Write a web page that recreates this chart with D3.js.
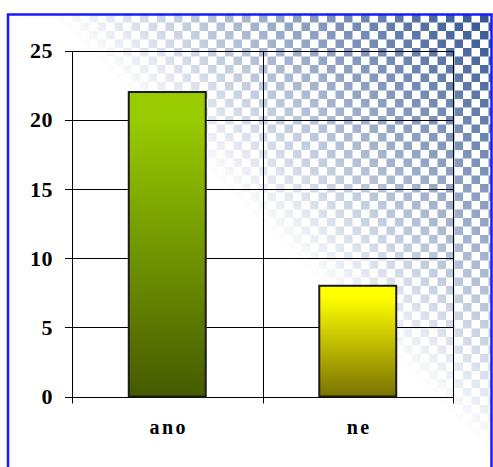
<!DOCTYPE html>
<html><head><meta charset="utf-8">
<script src="https://cdn.jsdelivr.net/npm/d3@7"></script>
<style>html,body{margin:0;padding:0;background:#fff;}svg{display:block;}</style>
</head><body>
<script>
const categories = ["ano", "ne"];
const values = [22, 8];
const yTicks = [0, 5, 10, 15, 20, 25];
const barTop = ["#99cc00", "#ffff00"];
const barBottom = ["#465a00", "#797200"];

const W = 493, H = 467;
const svg = d3.select("body").append("svg").attr("width", W).attr("height", H);
const defs = svg.append("defs");

// checker pattern
const pat = defs.append("pattern").attr("id", "chk").attr("patternUnits", "userSpaceOnUse")
  .attr("width", 17).attr("height", 17).attr("x", 4).attr("y", 14);
pat.append("rect").attr("x", 0).attr("y", 0).attr("width", 8.5).attr("height", 8.5).attr("fill", "#2f5290");
pat.append("rect").attr("x", 8.5).attr("y", 8.5).attr("width", 8.5).attr("height", 8.5).attr("fill", "#2f5290");

const mg = defs.append("linearGradient").attr("id", "fade").attr("gradientUnits", "userSpaceOnUse")
  .attr("x1", 270).attr("y1", 236).attr("x2", 492).attr("y2", 14);
mg.append("stop").attr("offset", 0).attr("stop-color", "#fff").attr("stop-opacity", 0);
mg.append("stop").attr("offset", 0.5).attr("stop-color", "#fff").attr("stop-opacity", 0.5);
mg.append("stop").attr("offset", 1).attr("stop-color", "#fff").attr("stop-opacity", 1);
const mask = defs.append("mask").attr("id", "m").attr("maskUnits", "userSpaceOnUse")
  .attr("x", 0).attr("y", 0).attr("width", W).attr("height", H);
mask.append("rect").attr("width", W).attr("height", H).attr("fill", "url(#fade)");

svg.append("rect").attr("width", W).attr("height", H).attr("fill", "#fff");
svg.append("rect").attr("x", 8).attr("y", 14).attr("width", 484).attr("height", 460)
  .attr("fill", "url(#chk)").attr("mask", "url(#m)");

// bar gradients
categories.forEach((c, i) => {
  const g = defs.append("linearGradient").attr("id", "bg" + i).attr("x1", 0).attr("y1", 0).attr("x2", 0).attr("y2", 1);
  g.append("stop").attr("offset", 0).attr("stop-color", barTop[i]);
  g.append("stop").attr("offset", i === 0 ? 0.08 : 0.1).attr("stop-color", barTop[i]);
  g.append("stop").attr("offset", 1).attr("stop-color", barBottom[i]);
});

const L = 72, R = 453, T = 50.5, B = 396.5;
const x = d3.scaleBand().domain(categories).range([L, R]).paddingInner(0.596).paddingOuter(0.298);
const y = d3.scaleLinear().domain([0, 25]).range([B, T]);
const px = v => Math.round(v) + 0.5;

const grid = svg.append("g").attr("stroke", "#000").attr("stroke-width", 1);
yTicks.forEach(t => {
  grid.append("line").attr("x1", L - 7).attr("x2", R + 0.5).attr("y1", px(y(t))).attr("y2", px(y(t)));
});
const bounds = [L, L + x.step(), R];
bounds.forEach(b => {
  grid.append("line").attr("x1", px(b)).attr("x2", px(b)).attr("y1", px(T)).attr("y2", B + 7);
});

// bars
svg.append("g").selectAll("rect").data(values).join("rect")
  .attr("x", (d, i) => x(categories[i]))
  .attr("y", d => y(d))
  .attr("width", x.bandwidth())
  .attr("height", d => B - y(d))
  .attr("fill", (d, i) => `url(#bg${i})`)
  .attr("stroke", "#1a1a1a").attr("stroke-width", 2);

// y tick labels
svg.append("g").selectAll("text").data(yTicks).join("text")
  .attr("x", 53).attr("y", d => y(d)).attr("dy", "0.35em")
  .attr("text-anchor", "end")
  .attr("font-family", "'Liberation Serif', 'Times New Roman', serif")
  .attr("font-weight", "bold").attr("font-size", 22).attr("letter-spacing", 0.5)
  .text(d => d);

// x labels
svg.append("g").selectAll("text").data(categories).join("text")
  .attr("x", d => x(d) + x.bandwidth() / 2 + 1.5).attr("y", 434)
  .attr("text-anchor", "middle")
  .attr("font-family", "'Liberation Serif', 'Times New Roman', serif")
  .attr("font-weight", "bold").attr("font-size", 20).attr("letter-spacing", 2.5)
  .text(d => d);

// frame
svg.append("path").attr("d", `M8,475 V14.5 H491.5 V475`).attr("fill", "none")
  .attr("stroke", "#1a1aff").attr("stroke-width", 2.5);
</script>
</body></html>
